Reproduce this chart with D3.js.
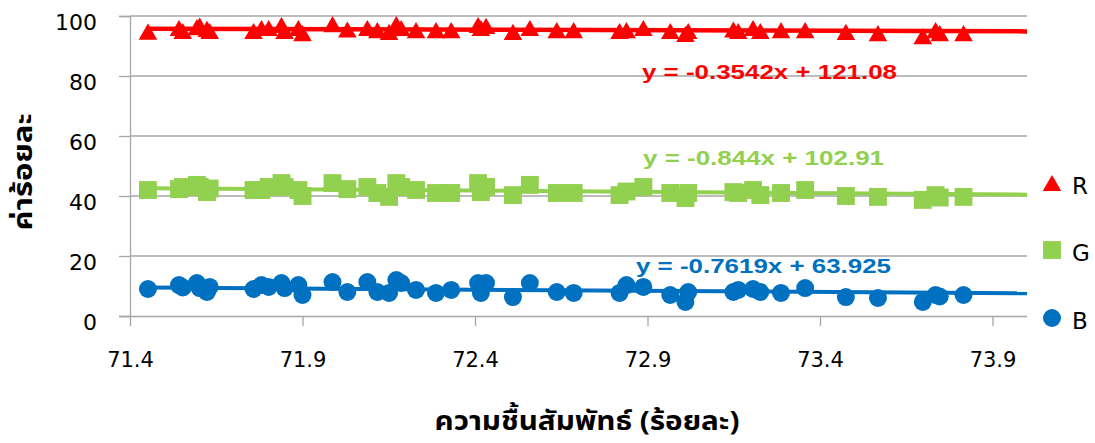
<!DOCTYPE html>
<html>
<head>
<meta charset="utf-8">
<script src="https://cdn.jsdelivr.net/npm/d3@7"></script>
<style>
  html, body { margin: 0; padding: 0; background: #fff; }
  svg { display: block; }
</style>
</head>
<body>
<svg id="chart" width="1095" height="443"></svg>
<script>
// Relative humidity (%) for each sample
const humidity = [
  71.452, 71.542, 71.553, 71.594, 71.602, 71.623, 71.631, 71.758, 71.781, 71.802,
  71.839, 71.848, 71.888, 71.900, 71.987, 72.030, 72.088, 72.117, 72.151, 72.172,
  72.186, 72.229, 72.287, 72.331, 72.409, 72.417, 72.432, 72.510, 72.559, 72.637,
  72.686, 72.819, 72.839, 72.888, 72.966, 73.010, 73.018, 73.149, 73.163, 73.206,
  73.227, 73.287, 73.357, 73.475, 73.568, 73.698, 73.735, 73.747, 73.816
];
// Percentage values for each colour channel
const rValues = [
  94.8, 96.0, 95.0, 96.3, 96.8, 95.7, 95.0, 95.0, 96.0, 96.0,
  97.0, 95.0, 96.0, 94.3, 97.3, 95.5, 96.0, 95.3, 94.7, 97.3,
  96.0, 95.3, 95.3, 95.3, 97.0, 96.0, 96.7, 94.7, 96.0, 95.3,
  95.3, 95.0, 95.3, 96.0, 95.0, 94.0, 95.0, 95.5, 95.0, 96.0,
  95.0, 95.3, 95.3, 94.7, 94.3, 93.3, 95.3, 94.3, 94.3
];
const gValues = [
  42.0, 42.3, 43.0, 43.7, 43.0, 41.3, 42.5, 42.0, 42.0, 43.0,
  44.3, 43.0, 42.0, 40.0, 44.3, 42.3, 43.0, 41.0, 39.7, 44.3,
  43.0, 42.0, 41.0, 41.0, 44.3, 41.3, 43.0, 40.3, 43.7, 41.0,
  41.0, 40.3, 41.5, 43.0, 41.0, 39.3, 41.0, 41.3, 41.0, 42.0,
  40.3, 41.0, 42.0, 40.0, 39.7, 38.7, 40.3, 39.5, 39.7
];
const bValues = [
  9.0, 10.3, 9.5, 11.0, 9.3, 8.0, 9.7, 9.0, 10.3, 9.7,
  11.0, 9.3, 10.3, 7.0, 11.3, 8.0, 11.3, 8.0, 7.7, 12.0,
  11.0, 8.7, 7.7, 8.7, 11.0, 7.7, 11.0, 6.3, 11.0, 8.0,
  7.7, 7.7, 10.3, 9.7, 7.0, 4.7, 8.0, 8.0, 8.7, 9.0,
  8.0, 7.7, 9.3, 6.3, 6.0, 4.7, 7.0, 6.5, 7.0
];

// Series names, linear trend coefficients and equation labels
const seriesNames = ["R", "G", "B"];
const slopes = [-0.3542, -0.844, -0.7619];
const intercepts = [121.08, 102.91, 63.925];
const equationLabels = ["y = -0.3542x + 121.08", "y = -0.844x + 102.91", "y = -0.7619x + 63.925"];

// Axis ticks and titles
const xTicks = [71.4, 71.9, 72.4, 72.9, 73.4, 73.9];
const yTicks = [0, 20, 40, 60, 80, 100];
const xTitle = "ความชื้นสัมพัทธ์ (ร้อยละ)";
const yTitle = "ค่าร้อยละ";

const seriesValues = [rValues, gValues, bValues];
const colors = ["#FF0000", "#92D050", "#0070C0"];
const shapes = [d3.symbolTriangle, d3.symbolSquare, d3.symbolCircle];
const shapeSizes = [150, 320, 254];
// d3 centres triangles on the centroid; shift so the box centre sits on the value
const shapeShift = [Math.sqrt(150 * 4 / Math.sqrt(3)) * Math.sqrt(3) / 2 / 6, 0, 0];

const svg = d3.select("#chart");
const plot = { left: 130, right: 1027, top: 16, bottom: 316 };

const x = d3.scaleLinear().domain([71.4, 74.0]).range([plot.left, plot.right]);
const y = d3.scaleLinear().domain([0, 100]).range([plot.bottom, plot.top]);

const gridColor = "#a6a6a6";
const tickFont = "'DejaVu Sans', Verdana, sans-serif";
const thaiFont = "'Noto Sans Thai', 'Noto Sans Thai UI', 'Noto Sans', 'DejaVu Sans', sans-serif";

// Horizontal gridlines
svg.append("g")
  .selectAll("line")
  .data(yTicks.filter(t => t > 0))
  .join("line")
  .attr("x1", plot.left).attr("x2", plot.right)
  .attr("y1", d => y(d)).attr("y2", d => y(d))
  .attr("stroke", gridColor).attr("stroke-width", 1.3);

// Y axis
const yAxis = svg.append("g")
  .attr("transform", `translate(${plot.left},0)`)
  .call(d3.axisLeft(y).tickValues(yTicks).tickSize(11).tickPadding(0).tickFormat(d3.format("d")));
yAxis.select(".domain").attr("stroke", gridColor).attr("stroke-width", 1.3);
yAxis.selectAll(".tick line").attr("stroke", gridColor).attr("stroke-width", 1.3);
yAxis.selectAll(".tick text")
  .attr("x", -33).attr("dy", "0.6em")
  .attr("font-family", tickFont).attr("font-size", 22).attr("fill", "#000");

// X axis
const xAxis = svg.append("g")
  .attr("transform", `translate(0,${plot.bottom})`)
  .call(d3.axisBottom(x).tickValues(xTicks).tickSize(10).tickSizeOuter(0).tickFormat(d3.format(".1f")));
xAxis.select(".domain").attr("stroke", gridColor).attr("stroke-width", 1.3)
  .attr("d", `M${plot.left},0.5H${plot.right}`);
xAxis.selectAll(".tick line").attr("stroke", gridColor).attr("stroke-width", 1.3);
xAxis.selectAll(".tick text")
  .attr("y", 44).attr("dy", "0.35em")
  .attr("font-family", tickFont).attr("font-size", 21).attr("fill", "#000");
// short stub of the x axis line left of the y axis, like the gridline ticks
svg.append("line")
  .attr("x1", plot.left - 11).attr("x2", plot.left)
  .attr("y1", plot.bottom + 0.5).attr("y2", plot.bottom + 0.5)
  .attr("stroke", gridColor).attr("stroke-width", 1.3);

// Markers
seriesValues.forEach((vals, si) => {
  svg.append("g")
    .selectAll("path")
    .data(humidity.map((h, i) => ({ h, v: vals[i] })))
    .join("path")
    .attr("transform", d => `translate(${x(d.h)},${y(d.v) + shapeShift[si]})`)
    .attr("d", d3.symbol().type(shapes[si]).size(shapeSizes[si]))
    .attr("fill", colors[si]);
});

// Linear trend lines from the first sample to the right edge
const xStart = d3.min(humidity);
const xEnd = x.domain()[1];
const trendLine = d3.line().x(d => x(d[0])).y(d => y(d[1]));
seriesNames.forEach((name, si) => {
  const f = h => slopes[si] * h + intercepts[si];
  svg.append("path")
    .attr("d", trendLine([[xStart, f(xStart)], [xEnd, f(xEnd)]]))
    .attr("stroke", colors[si]).attr("stroke-width", si === 0 ? 4.5 : 4)
    .attr("fill", "none");
});

// Trend equations
const eqPos = [[642, 72], [643, 158], [636, 266]];
const eqWidths = [255, 241, 255];
equationLabels.forEach((t, si) => {
  svg.append("text")
    .attr("x", eqPos[si][0]).attr("y", eqPos[si][1])
    .attr("dy", "0.35em")
    .attr("font-family", "'Liberation Sans', Arial, sans-serif")
    .attr("font-weight", "bold").attr("font-size", 21)
    .attr("textLength", eqWidths[si]).attr("lengthAdjust", "spacingAndGlyphs")
    .attr("fill", colors[si])
    .text(t);
});

// Legend
const legendY = [183, 250, 318];
seriesNames.forEach((name, si) => {
  svg.append("path")
    .attr("transform", `translate(1052,${legendY[si] + shapeShift[si]})`)
    .attr("d", d3.symbol().type(shapes[si]).size(shapeSizes[si]))
    .attr("fill", colors[si]);
  svg.append("text")
    .attr("x", 1072).attr("y", legendY[si] + 3)
    .attr("dy", "0.35em")
    .attr("font-family", tickFont).attr("font-size", 23).attr("fill", "#000")
    .text(name);
});

// Axis titles
svg.append("text")
  .attr("x", 587).attr("y", 421)
  .attr("text-anchor", "middle").attr("dy", "0.35em")
  .attr("font-family", thaiFont).attr("font-weight", "bold").attr("font-size", 27)
  .attr("textLength", 305).attr("lengthAdjust", "spacingAndGlyphs")
  .attr("fill", "#000")
  .text(xTitle);

svg.append("text")
  .attr("transform", "translate(23,172) rotate(-90)")
  .attr("text-anchor", "middle").attr("dy", "0.35em")
  .attr("font-family", thaiFont).attr("font-weight", "bold").attr("font-size", 27)
  .attr("textLength", 117).attr("lengthAdjust", "spacingAndGlyphs")
  .attr("fill", "#000")
  .text(yTitle);
</script>
</body>
</html>
